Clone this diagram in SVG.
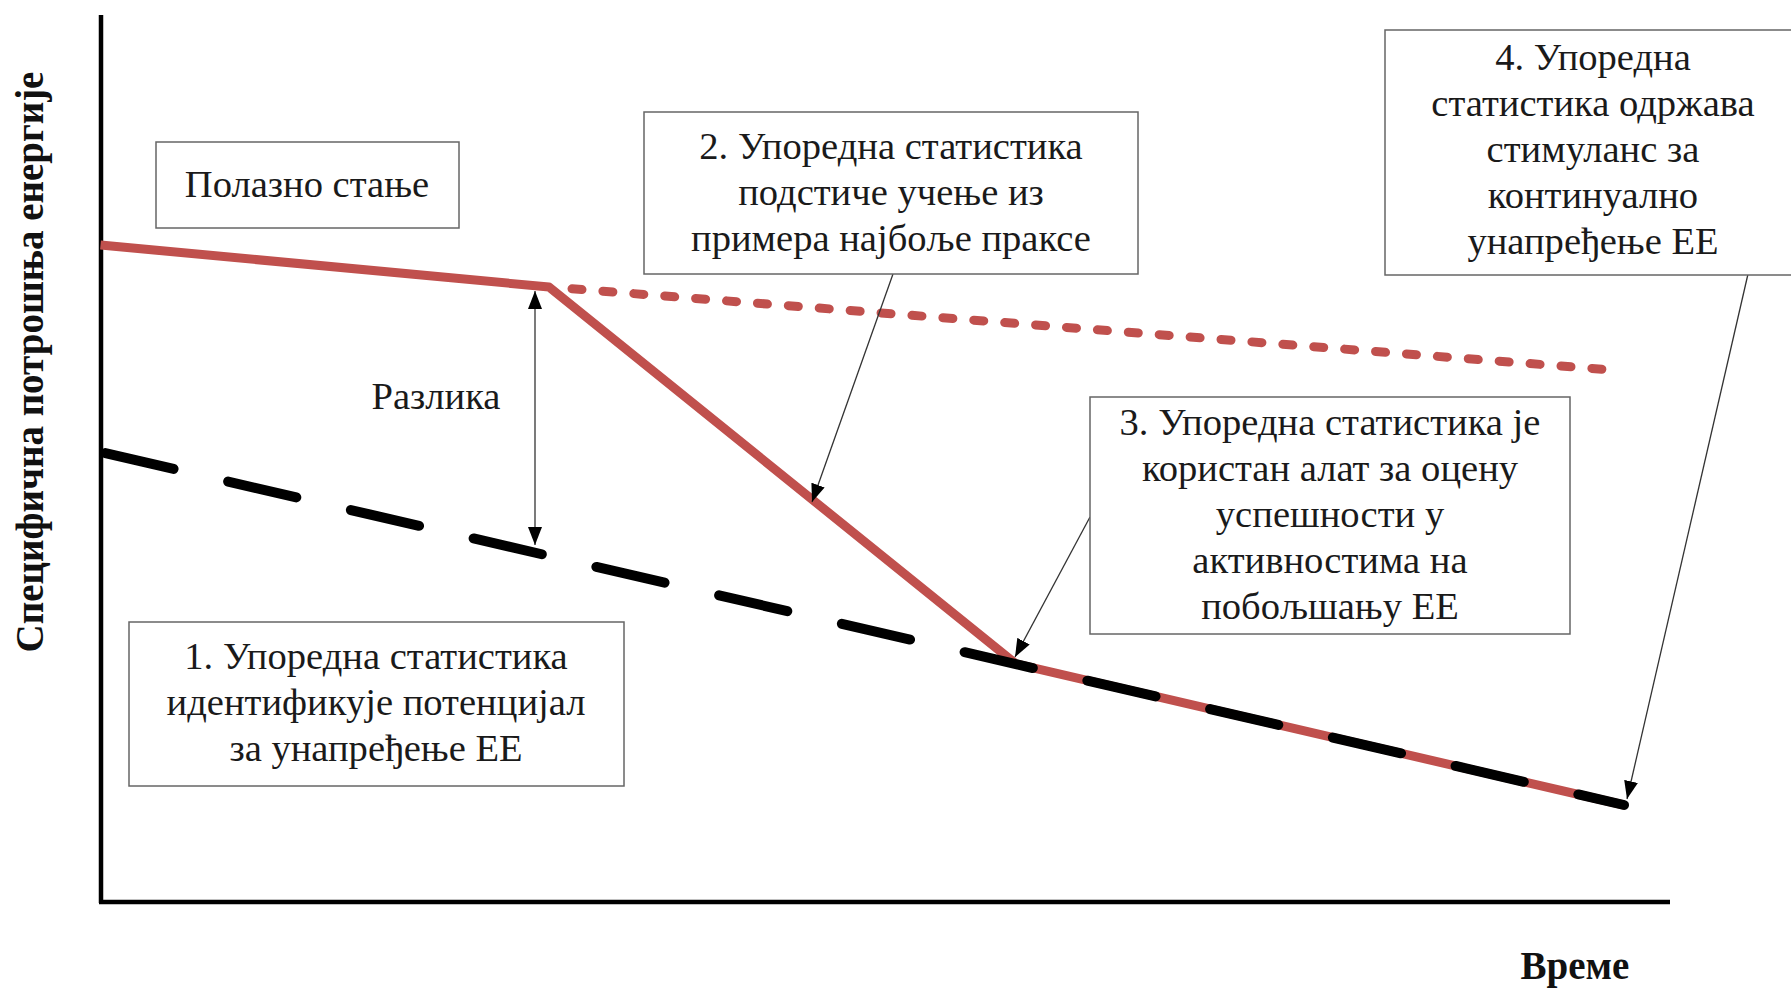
<svg xmlns="http://www.w3.org/2000/svg" width="1791" height="988" viewBox="0 0 1791 988">
<defs>
<style>
.box{fill:#fff;stroke:#666;stroke-width:1.5}
.t{font-family:"Liberation Serif","Times New Roman",serif;font-size:38.6px;fill:#1a1a1a;text-anchor:middle}
.b{font-family:"Liberation Serif","Times New Roman",serif;font-size:39px;font-weight:bold;fill:#111;text-anchor:middle}
.con{fill:none;stroke:#333;stroke-width:1.3}
</style>
<marker id="ah" markerUnits="userSpaceOnUse" markerWidth="18" markerHeight="14" refX="18" refY="7" orient="auto-start-reverse">
<path d="M0,0 L18,7 L0,14 z" fill="#000"/>
</marker>
</defs>
<rect width="1791" height="988" fill="#fff"/>
<g id="axes" stroke="#000" stroke-width="4.5" fill="none">
<line x1="101" y1="15" x2="101" y2="903"/>
<line x1="99" y1="902" x2="1670" y2="902"/>
</g>
<g id="curves" fill="none">
<polyline points="100.5,245 549,287 1016,664 1624,805" stroke="#c0504d" stroke-width="9" stroke-linejoin="round"/>
<line x1="572" y1="288.8" x2="1612" y2="370" stroke="#c0504d" stroke-width="9" stroke-linecap="round" stroke-dasharray="10 21"/>
<line x1="100.5" y1="452" x2="1624" y2="805" stroke="#000" stroke-width="10" stroke-linecap="round" stroke-dasharray="70 56" stroke-dashoffset="-5"/>
</g>
<g id="connectors">
<path class="con" d="M535,291 L535,545" marker-start="url(#ah)" marker-end="url(#ah)"/>
<path class="con" d="M893,274 L812,502" marker-end="url(#ah)"/>
<path class="con" d="M1090,517 L1015,657" marker-end="url(#ah)"/>
<path class="con" d="M1748,274 L1627,799" marker-end="url(#ah)"/>
</g>
<g id="start-state">
<rect class="box" x="156" y="142" width="303" height="86"/>
<text class="t" x="307" y="197">Полазно стање</text>
</g>
<g id="difference">
<text class="t" x="436" y="409">Разлика</text>
</g>
<g id="box1">
<rect class="box" x="129" y="622" width="495" height="164"/>
<text class="t" x="376" y="669">1. Упоредна статистика</text>
<text class="t" x="376" y="715">идентификује потенцијал</text>
<text class="t" x="376" y="761">за унапређење ЕЕ</text>
</g>
<g id="box2">
<rect class="box" x="644" y="112" width="494" height="162"/>
<text class="t" x="891" y="159">2. Упоредна статистика</text>
<text class="t" x="891" y="205">подстиче учење из</text>
<text class="t" x="891" y="251">примера најбоље праксе</text>
</g>
<g id="box3">
<rect class="box" x="1090" y="397" width="480" height="237"/>
<text class="t" x="1330" y="435">3. Упоредна статистика је</text>
<text class="t" x="1330" y="481">користан алат за оцену</text>
<text class="t" x="1330" y="527">успешности у</text>
<text class="t" x="1330" y="573">активностима на</text>
<text class="t" x="1330" y="619">побољшању ЕЕ</text>
</g>
<g id="box4">
<rect class="box" x="1385" y="30" width="418" height="245"/>
<text class="t" x="1593" y="70">4. Упоредна</text>
<text class="t" x="1593" y="116">статистика одржава</text>
<text class="t" x="1593" y="162">стимуланс за</text>
<text class="t" x="1593" y="208">континуално</text>
<text class="t" x="1593" y="254">унапређење ЕЕ</text>
</g>
<g id="y-label">
<text class="b" transform="translate(43,362) rotate(-90)">Специфична потрошња енергије</text>
</g>
<g id="x-label">
<text class="b" x="1575" y="979">Време</text>
</g>
</svg>
